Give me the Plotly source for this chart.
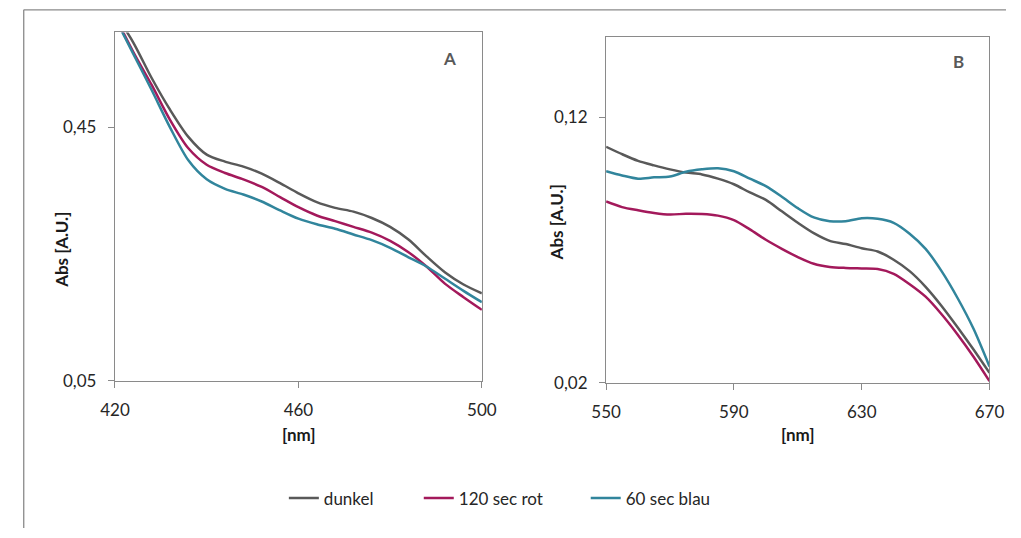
import plotly.graph_objects as go

# ---- Panel A data (wavelength nm, absorbance) ----
wl_a = [420, 424, 428, 432, 436, 440, 444, 448, 452, 456, 460, 464, 468, 472, 476, 480, 484, 488, 492, 496, 500]
a_dunkel = [0.630, 0.584, 0.528, 0.478, 0.435, 0.407, 0.396, 0.388, 0.377, 0.362, 0.346, 0.332, 0.323, 0.317, 0.307, 0.293, 0.273, 0.246, 0.221, 0.202, 0.188]
a_rot = [0.626, 0.569, 0.517, 0.462, 0.417, 0.391, 0.378, 0.368, 0.356, 0.340, 0.324, 0.311, 0.302, 0.293, 0.284, 0.271, 0.253, 0.230, 0.203, 0.182, 0.162]
a_blau = [0.623, 0.566, 0.509, 0.450, 0.398, 0.368, 0.353, 0.344, 0.333, 0.319, 0.306, 0.297, 0.290, 0.281, 0.272, 0.260, 0.245, 0.230, 0.211, 0.192, 0.174]

# ---- Panel B data ----
wl_b = [550, 555, 560, 565, 570, 575, 580, 585, 590, 595, 600, 605, 610, 615, 620, 625, 630, 635, 640, 645, 650, 655, 660, 665, 670]
b_dunkel = [0.1088, 0.1060, 0.1035, 0.1018, 0.1003, 0.0991, 0.0984, 0.0968, 0.0947, 0.0916, 0.0888, 0.0845, 0.0802, 0.0763, 0.0734, 0.0722, 0.0706, 0.0694, 0.0663, 0.0620, 0.0561, 0.0489, 0.0409, 0.0325, 0.0237]
b_rot = [0.0882, 0.0861, 0.0849, 0.0839, 0.0833, 0.0836, 0.0835, 0.0829, 0.0812, 0.0777, 0.0738, 0.0704, 0.0673, 0.0648, 0.0636, 0.0632, 0.0630, 0.0628, 0.0610, 0.0571, 0.0524, 0.0458, 0.0382, 0.0298, 0.0206]
b_blau = [0.0996, 0.0980, 0.0968, 0.0973, 0.0976, 0.0994, 0.1003, 0.1007, 0.0996, 0.0968, 0.0940, 0.0900, 0.0857, 0.0822, 0.0808, 0.0808, 0.0819, 0.0817, 0.0802, 0.0761, 0.0704, 0.0620, 0.0519, 0.0403, 0.0261]

series_names = ["dunkel", "120 sec rot", "60 sec blau"]
colors = ["#595959", "#A3195B", "#31859C"]

xticks_a = [420, 460, 500]
yticks_a = [0.05, 0.45]
yticktext_a = ["0,05", "0,45"]
xticks_b = [550, 590, 630, 670]
yticks_b = [0.02, 0.12]
yticktext_b = ["0,02", "0,12"]

W, H = 1021, 538
def px(x):
    return x / W
def py(y):
    return 1 - y / H

FONT = "Lato"
AX = "#8a8a8a"

fig = go.Figure()
legends = ["legend", "legend2", "legend3"]
for name, col, lg, ya in zip(series_names, colors, legends, [a_dunkel, a_rot, a_blau]):
    fig.add_trace(go.Scatter(x=wl_a, y=ya, mode="lines", name=name,
                             line=dict(color=col, width=2.5, shape="spline", smoothing=0.8),
                             xaxis="x", yaxis="y", legend=lg, showlegend=True))
for name, col, lg, yb in zip(series_names, colors, legends, [b_dunkel, b_rot, b_blau]):
    fig.add_trace(go.Scatter(x=wl_b, y=yb, mode="lines", name=name,
                             line=dict(color=col, width=2.5, shape="spline", smoothing=0.8),
                             xaxis="x2", yaxis="y2", showlegend=False))

axis_common = dict(showline=True, mirror=True, linecolor=AX, linewidth=1.3,
                   ticks="outside", ticklen=6, tickwidth=1.3, tickcolor=AX,
                   showgrid=False, zeroline=False,
                   tickfont=dict(family=FONT, size=17, color="#262626"))

fig.update_layout(
    width=W, height=H, autosize=False,
    margin=dict(l=0, r=0, t=0, b=0),
    paper_bgcolor="white", plot_bgcolor="white",
    font=dict(family=FONT, size=17, color="#262626"),
    xaxis=dict(domain=[px(103), px(481)], range=[420, 500], tickvals=xticks_a,
               anchor="y", ticklabelstandoff=8, **axis_common),
    yaxis=dict(domain=[py(388), py(33)], range=[0.05, 0.60], tickvals=yticks_a,
               ticktext=yticktext_a, anchor="x", ticklabelstandoff=8, **axis_common),
    xaxis2=dict(domain=[px(609), px(1004)], range=[550, 670], tickvals=xticks_b,
                anchor="y2", ticklabelstandoff=8, **axis_common),
    yaxis2=dict(domain=[py(390), py(38)], range=[0.02, 0.15], tickvals=yticks_b,
                ticktext=yticktext_b, anchor="x2", ticklabelstandoff=8, **axis_common),
)

leg_common = dict(orientation="h", yanchor="middle", xanchor="left",
                  bgcolor="rgba(0,0,0,0)", borderwidth=0,
                  font=dict(family=FONT, size=17, color="#262626"))
fig.update_layout(
    legend=dict(x=px(277), y=py(508), **leg_common),
    legend2=dict(x=px(416), y=py(508), **leg_common),
    legend3=dict(x=px(588), y=py(508), **leg_common),
)

# outer chart frame (top and left edges visible in the window)
frame = dict(type="line", xref="paper", yref="paper", line=dict(color="#8a8a8a", width=1.3), layer="below")
fig.add_shape(x0=px(9), x1=1, y0=py(10), y1=py(10), **frame)
fig.add_shape(x0=px(9), x1=px(9), y0=0, y1=py(10), **frame)

annots = [
    dict(text="<b>Abs [A.U.]</b>", x=px(48), y=py(255), textangle=-90),
    dict(text="<b>Abs [A.U.]</b>", x=px(558), y=py(227), textangle=-90),
    dict(text="<b>[nm]</b>", x=px(293), y=py(443)),
    dict(text="<b>[nm]</b>", x=px(807), y=py(443)),
]
for a in annots:
    fig.add_annotation(xref="paper", yref="paper", showarrow=False,
                       xanchor="center", yanchor="middle",
                       font=dict(family=FONT, size=17, color="#1a1a1a"), **a)
for t, x, y in [("A", 448, 60), ("B", 972, 63)]:
    fig.add_annotation(xref="paper", yref="paper", showarrow=False, text="<b>%s</b>" % t,
                       x=px(x), y=py(y), xanchor="center", yanchor="middle",
                       font=dict(family=FONT, size=17, color="#595959"))

fig.write_html("out.html", config={"displayModeBar": False})
